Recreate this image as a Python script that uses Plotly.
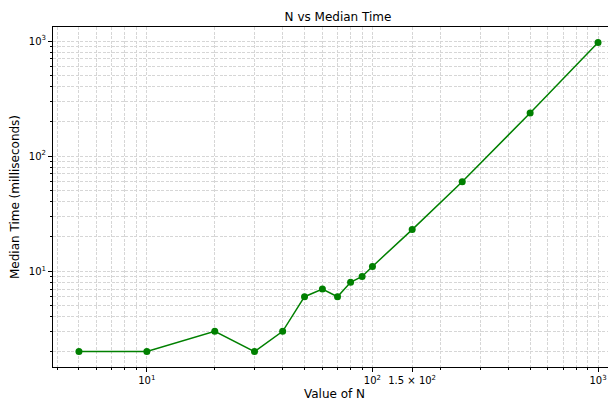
import numpy as np
import plotly.graph_objects as go

# Data
n_values = [5, 10, 20, 30, 40, 50, 60, 70, 80, 90, 100, 150, 250, 500, 1000]
median_ms = [2, 2, 3, 2, 3, 6, 7, 6, 8, 9, 11, 23, 60, 237, 975]

x_major_vals = [10, 100, 150, 1000]
x_major_text = ["10<sup>1</sup>", "10<sup>2</sup>", "1.5 × 10<sup>2</sup>", "10<sup>3</sup>"]
y_major_vals = [10, 100, 1000]
y_major_text = ["10<sup>1</sup>", "10<sup>2</sup>", "10<sup>3</sup>"]

x_minor_vals = [4, 5, 6, 7, 8, 9, 20, 30, 40, 50, 60, 70, 80, 90,
                200, 300, 400, 500, 600, 700, 800, 900]
y_minor_vals = [2, 3, 4, 5, 6, 7, 8, 9, 20, 30, 40, 50, 60, 70, 80, 90,
                200, 300, 400, 500, 600, 700, 800, 900]

FONT = "DejaVu Sans"
GRID = "#d6d6d6"
DASH = "3px,1.5px"

# the page body has an 8px margin: the figure is drawn from (8, 8)
W, H = 608, 398

fig = go.Figure()
fig.add_trace(go.Scatter(
    x=n_values, y=median_ms, mode="lines+markers",
    line=dict(color="green", width=1.5),
    marker=dict(color="green", size=7),
    showlegend=False,
))

fig.update_layout(
    width=W, height=H,
    margin=dict(l=45, r=0, t=19, b=39, autoexpand=False),
    paper_bgcolor="white", plot_bgcolor="white",
    font=dict(family=FONT, size=10, color="black"),
    title=dict(text="N vs Median Time", x=330 / W, xanchor="center",
               y=1 - 9 / H, yanchor="middle",
               font=dict(family=FONT, size=12, color="black")),
)

fig.update_xaxes(
    type="log", range=[0.584, 3.0796], automargin=False,
    tickmode="array", tickvals=x_major_vals, ticktext=x_major_text,
    ticks="outside", ticklen=4, tickwidth=1, tickcolor="black",
    showline=True, linecolor="black", linewidth=1, mirror=True,
    showgrid=True, gridcolor=GRID, gridwidth=0.6, griddash=DASH,
    minor=dict(tickmode="array", tickvals=x_minor_vals, ticks="outside",
               ticklen=2, tickwidth=0.8, tickcolor="black",
               showgrid=True, gridcolor=GRID, gridwidth=0.6, griddash=DASH),
    zeroline=False,
    tickfont=dict(family=FONT, size=10, color="black"),
    title=dict(text="Value of N", standoff=4,
               font=dict(family=FONT, size=12, color="black")),
)

fig.update_yaxes(
    type="log", range=[0.167, 3.123], automargin=False,
    tickmode="array", tickvals=y_major_vals, ticktext=y_major_text,
    ticks="outside", ticklen=4, tickwidth=1, tickcolor="black",
    showline=True, linecolor="black", linewidth=1, mirror=False,
    showgrid=True, gridcolor=GRID, gridwidth=0.6, griddash=DASH,
    minor=dict(tickmode="array", tickvals=y_minor_vals, ticks="outside",
               ticklen=2, tickwidth=0.8, tickcolor="black",
               showgrid=True, gridcolor=GRID, gridwidth=0.6, griddash=DASH),
    zeroline=False,
    tickfont=dict(family=FONT, size=10, color="black"),
    title=dict(text="Median Time (milliseconds)", standoff=6,
               font=dict(family=FONT, size=12, color="black")),
)

fig.write_html("out.html")
